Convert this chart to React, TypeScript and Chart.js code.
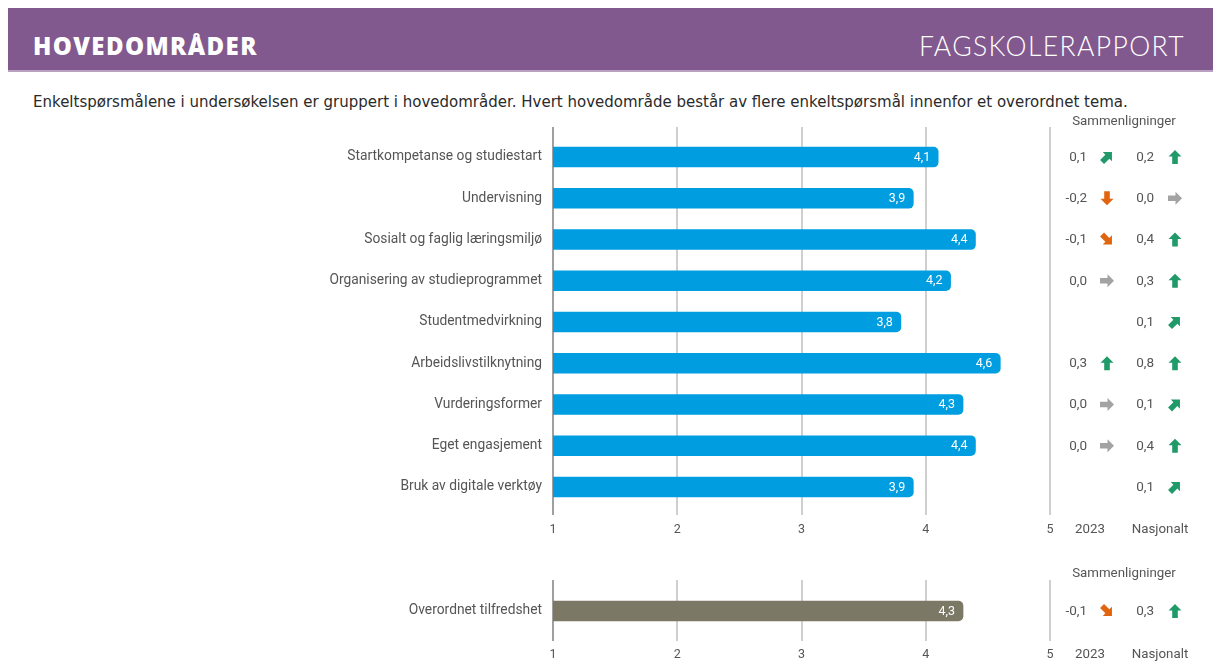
import React, { useEffect, useRef } from "react";
import { Chart, registerables } from "chart.js";

Chart.register(...registerables);

// ---------- data ----------
const categories = [
  "Startkompetanse og studiestart",
  "Undervisning",
  "Sosialt og faglig læringsmiljø",
  "Organisering av studieprogrammet",
  "Studentmedvirkning",
  "Arbeidslivstilknytning",
  "Vurderingsformer",
  "Eget engasjement",
  "Bruk av digitale verktøy",
];
const scores = [4.1, 3.9, 4.4, 4.2, 3.8, 4.6, 4.3, 4.4, 3.9];
const diff2023: (number | null)[] = [0.1, -0.2, -0.1, 0.0, null, 0.3, 0.0, 0.0, null];
const diffNational: (number | null)[] = [0.2, 0.0, 0.4, 0.3, 0.1, 0.8, 0.1, 0.4, 0.1];

const overallCategories = ["Overordnet tilfredshet"];
const overallScores = [4.3];
const overall2023: (number | null)[] = [-0.1];
const overallNational: (number | null)[] = [0.3];

const xTicks = [1, 2, 3, 4, 5];
const comparisonTitle = "Sammenligninger";
const col2023Label = "2023";
const colNationalLabel = "Nasjonalt";

const headerTitle = "HOVEDOMRÅDER";
const headerRight = "FAGSKOLERAPPORT";
const intro =
  "Enkeltspørsmålene i undersøkelsen er gruppert i hovedområder. Hvert hovedområde består av flere enkeltspørsmål innenfor et overordnet tema.";

// ---------- styles ----------
const BLUE = "#009ee0";
const OLIVE = "#7b7866";
const GREEN = "#1f9a68";
const ORANGE = "#e0650e";
const GRAY_ARROW = "#a3a3a3";
const TEXT = "#555555";
const FONT = "Roboto";
const W = 1213;
const H = 662;

const fmt = (v: number) => v.toFixed(1).replace(".", ",");

function arrowFor(v: number) {
  const r = Math.round(v * 10);
  if (r >= 2) return { a: 0, c: GREEN };
  if (r === 1) return { a: Math.PI / 4, c: GREEN };
  if (r === 0) return { a: Math.PI / 2, c: GRAY_ARROW };
  if (r === -1) return { a: (3 * Math.PI) / 4, c: ORANGE };
  return { a: Math.PI, c: ORANGE };
}

function drawArrow(ctx: CanvasRenderingContext2D, x: number, y: number, angle: number, color: string) {
  ctx.save();
  ctx.translate(x, y);
  ctx.rotate(angle);
  ctx.fillStyle = color;
  ctx.beginPath();
  ctx.moveTo(0, -7);
  ctx.lineTo(6.5, -0.5);
  ctx.lineTo(2.8, -0.5);
  ctx.lineTo(2.8, 7);
  ctx.lineTo(-2.8, 7);
  ctx.lineTo(-2.8, -0.5);
  ctx.lineTo(-6.5, -0.5);
  ctx.closePath();
  ctx.fill();
  ctx.restore();
}

const panelPlugin = {
  id: "panel",
  beforeDatasetsDraw(chart: any, _args: any, opts: any) {
    const { ctx, chartArea } = chart;
    const x = chart.scales.x;
    ctx.save();
    xTicks.forEach((t, i) => {
      const px = Math.round(x.getPixelForValue(t));
      ctx.strokeStyle = i === 0 ? "#a0a0a0" : "#cfcfcf";
      ctx.lineWidth = 2;
      ctx.beginPath();
      ctx.moveTo(px, chartArea.top - opts.gridTop);
      ctx.lineTo(px, chartArea.bottom + opts.gridBottom);
      ctx.stroke();
    });
    ctx.restore();
  },
  afterDatasetsDraw(chart: any, _args: any, opts: any) {
    const { ctx, chartArea } = chart;
    const yScale = chart.scales.y;
    const data = chart.data.datasets[0].data as number[];
    ctx.save();
    // value labels inside bars
    ctx.font = `12.5px ${FONT}`;
    ctx.fillStyle = "#ffffff";
    ctx.textAlign = "right";
    ctx.textBaseline = "middle";
    chart.getDatasetMeta(0).data.forEach((bar: any, i: number) => {
      ctx.fillText(fmt(data[i]), bar.x - 8, bar.y + 0.5);
    });
    // comparison columns
    const r = chartArea.right;
    const drawCol = (vals: (number | null)[], textX: number, arrowX: number) => {
      vals.forEach((v, i) => {
        if (v === null || v === undefined) return;
        const py = yScale.getPixelForValue(i);
        ctx.fillStyle = TEXT;
        ctx.textAlign = "right";
        ctx.textBaseline = "middle";
        ctx.font = `13.5px ${FONT}`;
        ctx.fillText(fmt(v), textX, py + 0.5);
        const ar = arrowFor(v);
        drawArrow(ctx, arrowX, py, ar.a, ar.c);
      });
    };
    drawCol(opts.d2023, r + 37, r + 57);
    drawCol(opts.dNational, r + 104, r + 125);
    // headers
    ctx.fillStyle = TEXT;
    ctx.textAlign = "center";
    ctx.textBaseline = "middle";
    ctx.font = `13.3px ${FONT}`;
    ctx.fillText(comparisonTitle, r + 74, chartArea.top - opts.titleOffset);
    const ty = chartArea.bottom + 22.5;
    ctx.fillText(col2023Label, r + 40, ty);
    ctx.fillText(colNationalLabel, r + 110, ty);
    ctx.restore();
  },
};

type PanelProps = {
  labels: string[];
  values: number[];
  color: string;
  d2023: (number | null)[];
  dNational: (number | null)[];
  padTop: number;
  padBottom: number;
  gridTop: number;
  gridBottom: number;
  titleOffset: number;
};

function Panel(p: PanelProps) {
  const ref = useRef<HTMLCanvasElement>(null);
  useEffect(() => {
    if (!ref.current) return;
    const chart = new Chart(ref.current, {
      type: "bar",
      data: {
        labels: p.labels,
        datasets: [
          {
            data: p.values,
            backgroundColor: p.color,
            base: 1,
            barThickness: 20,
            borderRadius: 5,
            borderSkipped: "start",
          } as any,
        ],
      },
      options: {
        indexAxis: "y",
        responsive: false,
        animation: false,
        layout: { padding: { left: 0, right: W - 1050, top: p.padTop, bottom: p.padBottom } },
        plugins: {
          legend: { display: false },
          tooltip: { enabled: false },
          panel: {
            d2023: p.d2023,
            dNational: p.dNational,
            gridTop: p.gridTop,
            gridBottom: p.gridBottom,
            titleOffset: p.titleOffset,
          },
        } as any,
        scales: {
          x: {
            type: "linear",
            min: 1,
            max: 5,
            afterBuildTicks: (s: any) => {
              s.ticks = xTicks.map((v) => ({ value: v }));
            },
            afterFit: (s: any) => {
              s.height = 30;
            },
            grid: { display: false, drawTicks: false },
            border: { display: false },
            ticks: {
              color: TEXT,
              font: { family: FONT, size: 12.5 },
              padding: 15,
              maxRotation: 0,
            },
          },
          y: {
            afterFit: (s: any) => {
              s.width = 553;
            },
            grid: { display: false, drawTicks: false },
            border: { display: false },
            ticks: {
              color: TEXT,
              font: { family: FONT, size: 13.8 },
              padding: 11,
            },
          },
        },
      },
      plugins: [panelPlugin as any],
    });
    return () => chart.destroy();
  }, []);
  return (
    <canvas
      ref={ref}
      width={W}
      height={H}
      style={{ position: "absolute", left: 0, top: 0, width: W, height: H }}
    />
  );
}

export default function App() {
  return (
    <div
      style={{
        position: "fixed",
        left: 0,
        top: 0,
        width: W,
        height: H,
        overflow: "hidden",
        background: "#ffffff",
      }}
    >
      <div
        style={{
          position: "absolute",
          left: 8,
          top: 8,
          width: W - 8,
          height: 62,
          background: "#82598e",
          borderBottom: "2px solid #b9a2c0",
          overflow: "hidden",
        }}
      >
        <div
          style={{
            position: "absolute",
            left: 25,
            top: 7,
            height: 62,
            lineHeight: "62px",
            color: "#ffffff",
            fontFamily: "'Open Sans'",
            fontWeight: 800,
            fontSize: 24,
            letterSpacing: 1.4,
            whiteSpace: "nowrap",
          }}
        >
          {headerTitle}
        </div>
        <div
          style={{
            position: "absolute",
            right: 28,
            top: 7,
            height: 62,
            lineHeight: "62px",
            color: "#ffffff",
            fontFamily: "Lato",
            fontWeight: 300,
            fontSize: 26.5,
            letterSpacing: 1.4,
            whiteSpace: "nowrap",
          }}
        >
          {headerRight}
        </div>
      </div>
      <div
        style={{
          position: "absolute",
          left: 33,
          top: 93,
          fontFamily: "'DejaVu Sans'",
          fontSize: 15,
          color: "#2a2a2a",
          whiteSpace: "nowrap",
        }}
      >
        {intro}
      </div>
      <Panel
        labels={categories}
        values={scores}
        color={BLUE}
        d2023={diff2023}
        dNational={diffNational}
        padTop={136.4}
        padBottom={H - 30 - 507.6}
        gridTop={9.4}
        gridBottom={7.4}
        titleOffset={14.5}
      />
      <Panel
        labels={overallCategories}
        values={overallScores}
        color={OLIVE}
        d2023={overall2023}
        dNational={overallNational}
        padTop={590}
        padBottom={0}
        gridTop={10}
        gridBottom={9}
        titleOffset={16}
      />
    </div>
  );
}
